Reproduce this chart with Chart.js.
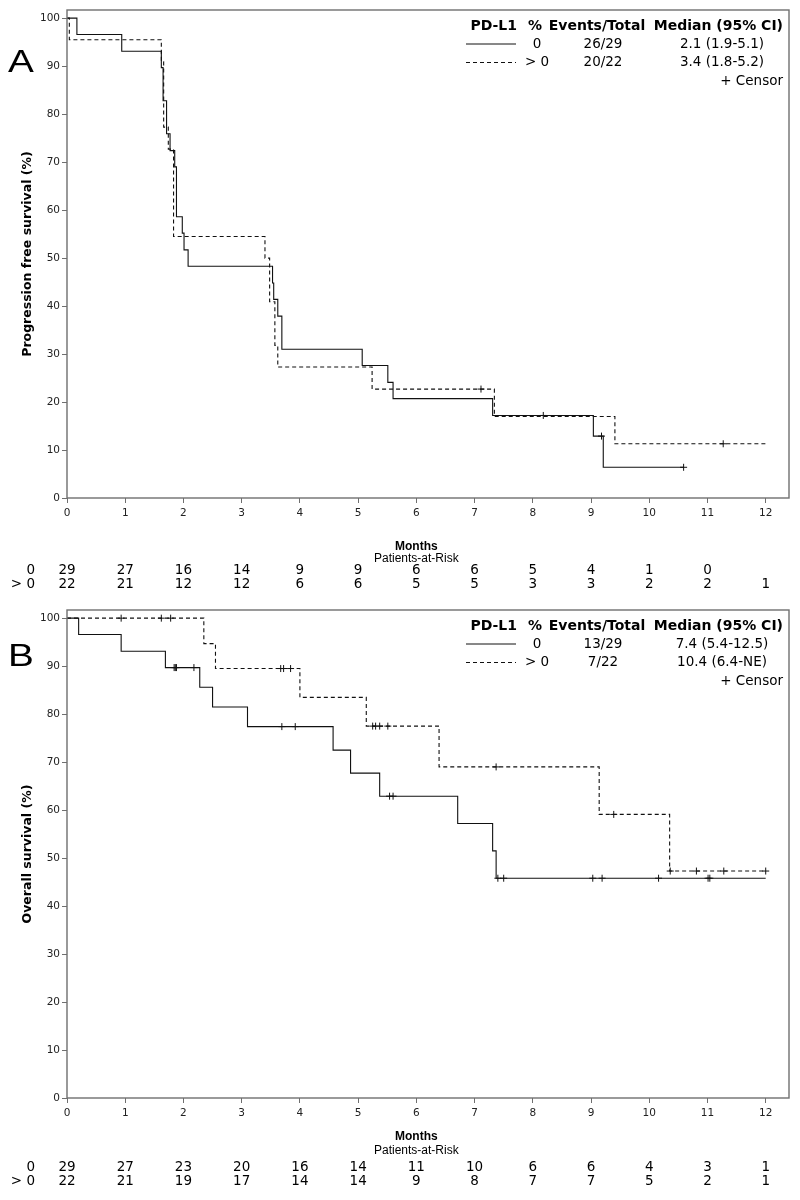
<!DOCTYPE html>
<html>
<head>
<meta charset="utf-8">
<script src="https://cdn.jsdelivr.net/npm/chart.js@4/dist/chart.umd.min.js"></script>
<style>
    body { margin: 0; background: #fff; }
    canvas { display: block; }
</style>
</head>
<body>
<canvas id="pfsChart" width="800" height="600"></canvas>
<canvas id="osChart" width="800" height="600"></canvas>
<script>
// axis ticks
const monthTicks = [0, 1, 2, 3, 4, 5, 6, 7, 8, 9, 10, 11, 12];
const survivalTicks = [0, 10, 20, 30, 40, 50, 60, 70, 80, 90, 100];
const groupLabels = ['0', '> 0'];

// panel A - progression free survival, PD-L1 0 (solid)
const pfsNegTimes  = [0, 0.17, 0.94, 1.62, 1.65, 1.71, 1.77, 1.85, 1.88, 1.98, 2.01, 2.08, 3.53, 3.55, 3.62, 3.69, 5.07, 5.51, 5.60, 7.31, 9.04, 9.21];
const pfsNegValues = [100, 96.6, 93.1, 89.7, 82.8, 75.9, 72.4, 69.0, 58.6, 55.2, 51.7, 48.3, 44.8, 41.4, 37.9, 31.0, 27.6, 24.1, 20.7, 17.2, 12.9, 6.4];
const pfsNegCensor = [8.18, 9.18, 10.59];
const pfsNegEnd = 10.59;
// PD-L1 > 0 (dashed)
const pfsPosTimes  = [0, 0.04, 1.62, 1.66, 1.74, 1.83, 3.40, 3.48, 3.57, 3.62, 5.24, 7.34, 9.41];
const pfsPosValues = [100, 95.5, 90.9, 77.3, 72.7, 54.5, 50.0, 40.9, 31.8, 27.3, 22.7, 17.0, 11.3];
const pfsPosCensor = [7.11, 11.27];
const pfsPosEnd = 12.0;
const pfsRiskNeg = [29, 27, 16, 14, 9, 9, 6, 6, 5, 4, 1, 0];
const pfsRiskPos = [22, 21, 12, 12, 6, 6, 5, 5, 3, 3, 2, 2, 1];
const pfsEvents  = ['26/29', '20/22'];
const pfsMedians = ['2.1 (1.9-5.1)', '3.4 (1.8-5.2)'];

// panel B - overall survival, PD-L1 0 (solid)
const osNegTimes  = [0, 0.20, 0.93, 1.69, 2.28, 2.50, 3.10, 4.57, 4.87, 5.37, 6.71, 7.31, 7.37];
const osNegValues = [100, 96.6, 93.1, 89.7, 85.6, 81.5, 77.4, 72.5, 67.7, 62.9, 57.2, 51.5, 45.8];
const osNegCensor = [1.84, 1.86, 1.88, 2.18, 3.69, 3.92, 5.54, 5.60, 7.40, 7.50, 9.03, 9.19, 10.16, 11.01, 11.04];
const osNegEnd = 12.0;
// PD-L1 > 0 (dashed)
const osPosTimes  = [0, 2.35, 2.55, 4.00, 5.14, 6.39, 9.14, 10.35];
const osPosValues = [100, 94.7, 89.5, 83.5, 77.5, 69.0, 59.1, 47.3];
const osPosCensor = [0.93, 1.62, 1.78, 3.67, 3.72, 3.84, 5.25, 5.30, 5.37, 5.51, 7.37, 9.39, 10.36, 10.81, 11.28, 12.0];
const osPosEnd = 12.0;
const osRiskNeg = [29, 27, 23, 20, 16, 14, 11, 10, 6, 6, 4, 3, 1];
const osRiskPos = [22, 21, 19, 17, 14, 14, 9, 8, 7, 7, 5, 2, 1];
const osEvents  = ['13/29', '7/22'];
const osMedians = ['7.4 (5.4-12.5)', '10.4 (6.4-NE)'];

const DASH = [4, 3];
const INK = '#111';
const FRAME = '#6f6f6f';

function stepValue(times, values, t) {
    let v = values[0];
    for (let i = 0; i < times.length; i++) {
        if (times[i] <= t) v = values[i];
    }
    return v;
}

function curveDatasets(times, values, censor, end, dash) {
    const pts = times.map((t, i) => ({ x: t, y: values[i] }));
    pts.push({ x: end, y: values[values.length - 1] });
    return [{
        data: pts,
        showLine: true,
        stepped: 'before',
        borderColor: INK,
        borderWidth: 1.1,
        borderDash: dash,
        pointRadius: 0,
        fill: false
    }, {
        data: censor.map(t => ({ x: t, y: stepValue(times, values, t) })),
        showLine: false,
        pointStyle: 'cross',
        pointRadius: 3.5,
        borderColor: INK,
        borderWidth: 1,
        backgroundColor: INK
    }];
}

// frame, panel letter, axis titles, legend table and patients-at-risk rows
function makeDecor(cfg) {
    return {
        id: 'kmDecor',
        afterDraw(chart) {
            const { ctx, chartArea: a, scales: { x } } = chart;
            ctx.save();
            ctx.strokeStyle = FRAME;
            ctx.lineWidth = 1.4;
            ctx.strokeRect(a.left, a.top, a.right - a.left, a.bottom - a.top);

            ctx.fillStyle = '#000';
            ctx.textBaseline = 'alphabetic';
            ctx.textAlign = 'left';
            ctx.save();
            ctx.translate(8, cfg.letterY);
            ctx.scale(1.25, 1);
            ctx.font = '31px "Liberation Sans"';
            ctx.fillText(cfg.letter, 0, 0);
            ctx.restore();

            // y title, centred on the plot
            ctx.save();
            ctx.translate(28, (a.top + a.bottom) / 2);
            ctx.rotate(-Math.PI / 2);
            ctx.textAlign = 'center';
            ctx.textBaseline = 'middle';
            ctx.font = 'bold 12.5px "DejaVu Sans"';
            ctx.fillText(cfg.yTitle, 0, 0);
            ctx.restore();

            // legend table
            ctx.textBaseline = 'middle';
            ctx.font = 'bold 14px "DejaVu Sans"';
            ctx.textAlign = 'right';
            ctx.fillText('PD-L1', 517, 26);
            ctx.textAlign = 'center';
            ctx.fillText('%', 535, 26);
            ctx.fillText('Events/Total', 597, 26);
            ctx.textAlign = 'right';
            ctx.fillText('Median (95% CI)', 783, 26);
            ctx.font = '13.5px "DejaVu Sans"';
            const rowY = [44, 62.5];
            groupLabels.forEach((g, i) => {
                ctx.save();
                ctx.strokeStyle = INK;
                ctx.lineWidth = 1;
                ctx.setLineDash(i === 0 ? [] : DASH);
                ctx.beginPath();
                ctx.moveTo(466, rowY[i]);
                ctx.lineTo(516, rowY[i]);
                ctx.stroke();
                ctx.restore();
                ctx.textAlign = 'center';
                ctx.fillText(g, 537, rowY[i]);
                ctx.fillText(cfg.events[i], 603, rowY[i]);
                ctx.fillText(cfg.medians[i], 722, rowY[i]);
            });
            ctx.textAlign = 'right';
            ctx.fillText('+ Censor', 783, 81);

            // x title and risk table
            const cx = x.getPixelForValue(6);
            ctx.textAlign = 'center';
            ctx.font = 'bold 12px "Liberation Sans"';
            ctx.fillText('Months', cx, cfg.monthsY);
            ctx.font = '12px "Liberation Sans"';
            ctx.fillText('Patients-at-Risk', cx, cfg.riskTitleY);
            ctx.font = '13.5px "DejaVu Sans"';
            [cfg.riskNeg, cfg.riskPos].forEach((row, r) => {
                const y = cfg.riskY + r * 14;
                ctx.textAlign = 'right';
                ctx.fillText(groupLabels[r], 35, y);
                ctx.textAlign = 'center';
                row.forEach((n, i) => ctx.fillText(String(n), x.getPixelForValue(monthTicks[i]), y));
            });
            ctx.restore();
        }
    };
}

function buildChart(id, datasets, cfg) {
    const tickFont = { family: 'DejaVu Sans', size: 10.5 };
    return new Chart(document.getElementById(id), {
        type: 'scatter',
        data: { datasets: datasets },
        options: {
            responsive: false,
            animation: false,
            events: [],
            layout: { padding: { top: 10, right: 11, left: 0, bottom: 0 } },
            plugins: { legend: { display: false }, tooltip: { enabled: false } },
            scales: {
                x: {
                    type: 'linear',
                    min: 0,
                    max: 12.4,
                    afterBuildTicks: s => { s.ticks = monthTicks.map(v => ({ value: v })); },
                    afterFit: s => { s.height = 102; },
                    border: { display: false },
                    grid: { drawOnChartArea: false, tickLength: 5, color: FRAME },
                    ticks: { padding: 4, color: '#222', font: tickFont, maxRotation: 0, autoSkip: false }
                },
                y: {
                    min: 0,
                    max: 101.7,
                    afterBuildTicks: s => { s.ticks = survivalTicks.map(v => ({ value: v })); },
                    afterFit: s => { s.width = 67; },
                    border: { display: false },
                    grid: { drawOnChartArea: false, tickLength: 5, color: FRAME },
                    ticks: { padding: 2, color: '#222', font: tickFont, autoSkip: false }
                }
            }
        },
        plugins: [makeDecor(cfg)]
    });
}

buildChart('pfsChart', [
    ...curveDatasets(pfsNegTimes, pfsNegValues, pfsNegCensor, pfsNegEnd, []),
    ...curveDatasets(pfsPosTimes, pfsPosValues, pfsPosCensor, pfsPosEnd, DASH)
], {
    letter: 'A', letterY: 72, yTitle: 'Progression free survival (%)',
    events: pfsEvents, medians: pfsMedians, riskNeg: pfsRiskNeg, riskPos: pfsRiskPos,
    monthsY: 547, riskTitleY: 559, riskY: 570
});

buildChart('osChart', [
    ...curveDatasets(osNegTimes, osNegValues, osNegCensor, osNegEnd, []),
    ...curveDatasets(osPosTimes, osPosValues, osPosCensor, osPosEnd, DASH)
], {
    letter: 'B', letterY: 66, yTitle: 'Overall survival (%)',
    events: osEvents, medians: osMedians, riskNeg: osRiskNeg, riskPos: osRiskPos,
    monthsY: 537, riskTitleY: 551, riskY: 567
});
</script>
</body>
</html>
